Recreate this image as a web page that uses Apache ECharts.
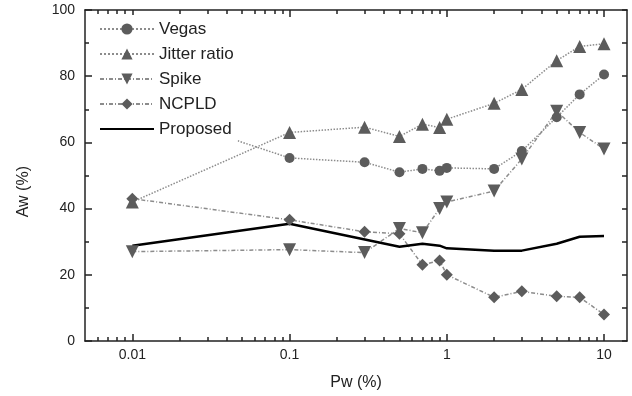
<!DOCTYPE html>
<html>
<head>
<meta charset="utf-8">
<script src="https://cdn.jsdelivr.net/npm/echarts@6/dist/echarts.min.js"></script>
<style>
html,body{margin:0;padding:0;background:#fff;}
#chart{width:632px;height:396px;}
</style>
</head>
<body>
<div id="chart"></div>
<script>
const pw = [0.01, 0.1, 0.3, 0.5, 0.7, 0.9, 1, 2, 3, 5, 7, 10];
const vegas = [71, 55.3, 54, 51, 52, 51.4, 52.3, 52, 57.4, 67.6, 74.5, 80.5];
const jitter = [42, 63, 64.6, 61.8, 65.5, 64.5, 67, 71.8, 76, 84.7, 89, 89.8];
const spike = [27, 27.6, 26.7, 34, 32.7, 40, 42, 45.3, 55, 69.4, 63, 58];
const ncpld = [43, 36.6, 33, 32.4, 23, 24.3, 20, 13.2, 15, 13.5, 13.2, 8];
const proposed = [28.8, 35.4, null, 28.5, 29.4, 28.8, 28, 27.3, 27.3, 29.4, 31.5, 31.7];
const majorTicks = [0.01, 0.1, 1, 10];
const minorTicks = [0.006, 0.007, 0.008, 0.009,
  0.02, 0.03, 0.04, 0.05, 0.06, 0.07, 0.08, 0.09,
  0.2, 0.3, 0.4, 0.5, 0.6, 0.7, 0.8, 0.9,
  2, 3, 4, 5, 6, 7, 8, 9];
const xMin = 0.005, xMax = 14;

const pairs = arr => pw.map((x, i) => [x, arr[i]]);
const markerColor = '#5c5c5c';
const lineColor = '#8c8c8c';
const font = 'Liberation Sans, Arial, sans-serif';
const axisColor = '#222';

function markerSeries(name, data, symbol, size, dash) {
  return {
    name, type: 'line', data: pairs(data), xAxisIndex: 0, yAxisIndex: 0,
    symbol, symbolSize: size, showSymbol: true,
    itemStyle: { color: markerColor },
    lineStyle: { color: lineColor, width: 1.5, type: dash },
    emphasis: { disabled: true }, animation: false
  };
}

// main log axes (data axis + mirrored top)
function logAxis(position, showLabel) {
  const def = {
    type: 'log', logBase: 10, min: xMin, max: xMax, gridIndex: 0, position,
    splitLine: { show: false }, minorTick: { show: false },
    axisLine: { show: true, onZero: false, lineStyle: { color: axisColor, width: 1.5 } },
    axisTick: { show: true, inside: true, length: 7, customValues: majorTicks, lineStyle: { color: axisColor, width: 1.5 } },
    axisLabel: { show: false }
  };
  if (showLabel) {
    def.axisLabel = { show: true, customValues: majorTicks, margin: 7, fontFamily: font, fontSize: 14, color: axisColor,
      formatter: v => String(Number(Number(v).toPrecision(3))) };
    def.name = 'Pw (%)';
    def.nameLocation = 'middle';
    def.nameGap = 34;
    def.nameTextStyle = { fontFamily: font, fontSize: 16, color: axisColor };
  }
  return def;
}
// helper axes carrying the minor log ticks (log10 space)
function minorAxis(position) {
  return {
    type: 'value', min: Math.log10(xMin), max: Math.log10(xMax), gridIndex: 0, position,
    splitLine: { show: false },
    axisLine: { show: false, onZero: false },
    axisTick: { show: true, inside: true, length: 4, customValues: minorTicks.map(Math.log10),
      lineStyle: { color: axisColor, width: 1.5 } },
    axisLabel: { show: false }
  };
}

const chart = echarts.init(document.getElementById('chart'), null, { renderer: 'canvas' });
chart.setOption({
  animation: false,
  backgroundColor: '#fff',
  grid: { left: 85, right: 5, top: 10, bottom: 53 },
  legend: {
    orient: 'vertical', left: 95, top: 15,
    padding: [4, 4, 4, 4],
    backgroundColor: '#fff',
    itemWidth: 54, itemHeight: 14, itemGap: 5, itemTextGap: 5,
    textStyle: { fontFamily: font, fontSize: 17, color: axisColor, lineHeight: 20 },
    data: ['Vegas', 'Jitter ratio', 'Spike', 'NCPLD',
      { name: 'Proposed', itemStyle: { opacity: 0 } }]
  },
  xAxis: [
    logAxis('bottom', true),
    minorAxis('bottom'),
    logAxis('top', false),
    minorAxis('top')
  ],
  yAxis: [
    {
      type: 'value', min: 0, max: 100, interval: 20, position: 'left',
      axisLine: { show: true, onZero: false, lineStyle: { color: axisColor, width: 1.5 } },
      axisTick: { show: true, inside: true, length: 7, lineStyle: { color: axisColor, width: 1.5 } },
      minorTick: { show: true, splitNumber: 2, length: 4, lineStyle: { color: axisColor, width: 1.5 } },
      axisLabel: { margin: 10, fontFamily: font, fontSize: 14, color: axisColor },
      splitLine: { show: false }
    },
    {
      type: 'value', min: 0, max: 100, interval: 10, position: 'right',
      axisLine: { show: true, onZero: false, lineStyle: { color: axisColor, width: 1.5 } },
      axisTick: { show: true, inside: true, length: 5, lineStyle: { color: axisColor, width: 1.5 } },
      axisLabel: { show: false },
      splitLine: { show: false }
    }
  ],
  graphic: [{
    type: 'text', left: 16, top: 166, rotation: Math.PI / 2,
    style: { text: 'Aw (%)', fontFamily: font, fontSize: 16, fill: axisColor }
  }],
  series: [
    markerSeries('Vegas', vegas, 'circle', 10, 'dotted'),
    markerSeries('Jitter ratio', jitter, 'triangle', 13, 'dotted'),
    markerSeries('Spike', spike, 'path://M0,0 L10,0 L5,9 Z', 13, [4, 2, 1, 2]),
    markerSeries('NCPLD', ncpld, 'diamond', 12, [4, 2, 1, 2]),
    {
      name: 'Proposed', type: 'line', data: pairs(proposed), connectNulls: true,
      symbol: 'none', showSymbol: false,
      itemStyle: { color: '#000' },
      lineStyle: { color: '#000', width: 2.5 },
      emphasis: { disabled: true }, animation: false
    }
  ]
});
</script>
</body>
</html>
